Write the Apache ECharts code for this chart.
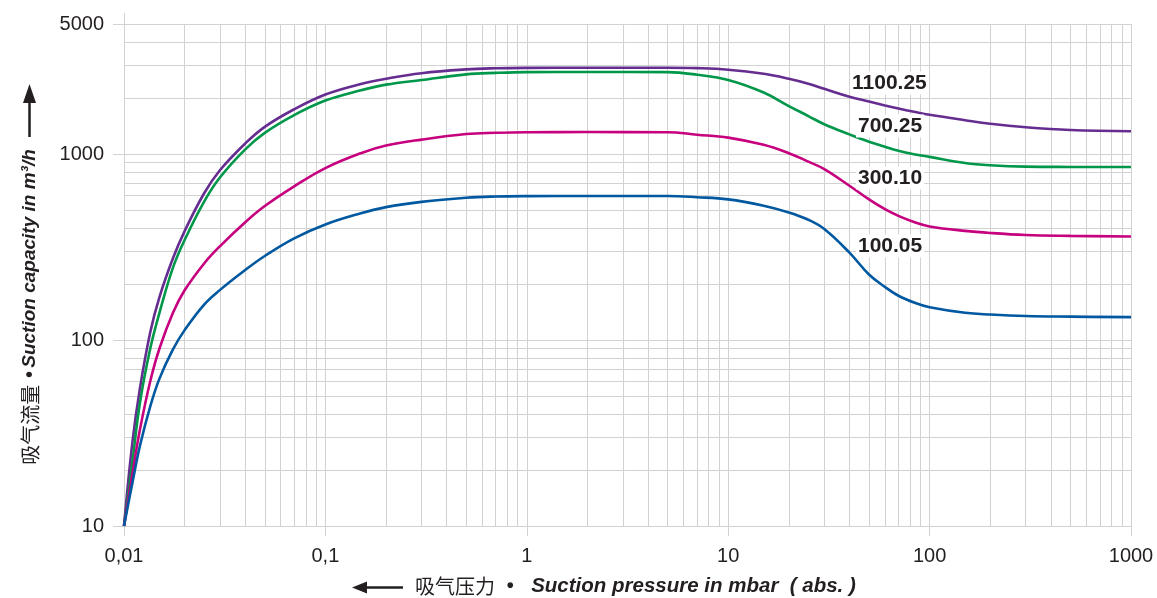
<!DOCTYPE html>
<html><head><meta charset="utf-8">
<script src="https://cdn.jsdelivr.net/npm/echarts@6/dist/echarts.min.js"></script>
<style>html,body{margin:0;padding:0;background:#fff;}#c{width:1157px;height:598px;}</style>
</head><body><div id="c"></div>
<script>
// Suction pressure (mbar, abs.)
const pressure = [0.01, 0.011, 0.012, 0.0135, 0.015, 0.0175, 0.02, 0.025, 0.03, 0.04, 0.05, 0.07, 0.1, 0.15, 0.2, 0.3, 0.5, 0.7, 1, 2, 5, 7, 10, 15, 20, 25, 30, 40, 50, 60, 70, 85, 100, 150, 200, 300, 500, 1000];
// Suction capacity (m3/h)
const cap110025 = [10, 28, 55, 110, 170, 275, 385, 615, 820, 1140, 1400, 1740, 2090, 2380, 2540, 2720, 2850, 2890, 2905, 2910, 2910, 2895, 2840, 2700, 2540, 2390, 2240, 2030, 1915, 1825, 1755, 1680, 1625, 1520, 1455, 1393, 1346, 1325];
const cap70025  = [10, 22, 46, 90, 140, 245, 345, 555, 750, 1060, 1300, 1620, 1940, 2200, 2360, 2500, 2680, 2730, 2757, 2760, 2757, 2670, 2500, 2140, 1810, 1600, 1445, 1275, 1165, 1095, 1040, 995, 965, 895, 870, 855, 852, 851];
const cap30010  = [10, 19, 33, 60, 90, 140, 185, 258, 320, 430, 525, 670, 840, 1010, 1110, 1195, 1280, 1300, 1310, 1312, 1310, 1270, 1225, 1120, 1010, 910, 830, 675, 570, 505, 465, 428, 408, 386, 376, 367, 363, 360];
const cap10005  = [10, 17, 27, 44, 62, 89, 113, 155, 186, 238, 283, 352, 418, 480, 518, 553, 582, 591, 594, 595, 595, 586, 570, 527, 485, 443, 395, 295, 225, 193, 173, 158, 150, 140, 137, 134.5, 133.5, 132.7];
const seriesNames = ['1100.25', '700.25', '300.10', '100.05'];
const xTickValues = [0.01, 0.1, 1, 10, 100, 1000];
const xTickLabels = ['0,01', '0,1', '1', '10', '100', '1000'];
const yTickValues = [10, 100, 1000, 5000];
const yTickLabels = ['10', '100', '1000', '5000'];
const xMinorGrid = [0.02,0.03,0.04,0.05,0.06,0.07,0.08,0.09, 0.2,0.3,0.4,0.5,0.6,0.7,0.8,0.9, 2,3,4,5,6,7,8,9, 20,30,40,50,60,70,80,90, 200,300,400,500,600,700,800,900];
const yMinorGrid = [20,30,40,50,60,70,80,90, 200,300,400,500,600,700,800,900, 2000,3000,4000];

const colors = ['#662d91', '#00974a', '#c6007e', '#0058a0'];
const caps = [cap110025, cap70025, cap30010, cap10005];
const GRID = '#d2d2d2';
const TXT = '#231f20';
const FONT = '"Liberation Sans", Arial, Helvetica, sans-serif';
const CJK = '"Noto Sans CJK SC", sans-serif';

function nearestLabel(vals, labels, v) {
  let best = 0, bd = Infinity;
  vals.forEach((t, i) => { const d = Math.abs(Math.log10(t) - Math.log10(v)); if (d < bd) { bd = d; best = i; } });
  return labels[best];
}

const chart = echarts.init(document.getElementById('c'), null, {renderer: 'canvas'});
const series = caps.map((arr, i) => ({
  name: seriesNames[i], type: 'line', z: 3,
  data: pressure.map((p, j) => [p, arr[j]]),
  showSymbol: false, symbol: 'none', smooth: 0.4,
  lineStyle: {color: colors[i], width: 2.6},
  itemStyle: {color: colors[i]},
  emphasis: {disabled: true}, silent: true, animation: false
}));
series.push({
  type: 'line', data: [], z: 1, silent: true, animation: false,
  markLine: {
    silent: true, symbol: ['none', 'none'], z: 1, animation: false,
    label: {show: false},
    lineStyle: {color: GRID, width: 1, type: 'solid'},
    emphasis: {disabled: true},
    data: xMinorGrid.map(v => ({xAxis: v})).concat(yMinorGrid.map(v => ({yAxis: v})))
  }
});

const labelStyle = (t) => ({text: t, fill: TXT, font: 'bold 21px ' + FONT, align: 'left', verticalAlign: 'middle', backgroundColor: '#fff', padding: [1, 2]});

chart.setOption({
  animation: false,
  backgroundColor: '#fff',
  grid: {left: 124, right: 26, top: 24, bottom: 72, containLabel: false},
  xAxis: {
    type: 'log', logBase: 10, min: 0.01, max: 1000,
    axisLine: {show: true, lineStyle: {color: GRID, width: 1}},
    axisTick: {show: true, length: 10, lineStyle: {color: GRID, width: 1}},
    splitLine: {show: true, lineStyle: {color: GRID, width: 1}},
    minorTick: {show: false}, minorSplitLine: {show: false},
    axisLabel: {color: TXT, fontSize: 20, fontFamily: FONT, margin: 20,
      formatter: v => nearestLabel(xTickValues, xTickLabels, v)}
  },
  yAxis: {
    type: 'log', logBase: 10, min: 10, max: 5000,
    axisLine: {show: true, lineStyle: {color: GRID, width: 1}},
    axisTick: {show: true, length: 11, lineStyle: {color: GRID, width: 1}},
    splitLine: {show: true, lineStyle: {color: GRID, width: 1}},
    minorTick: {show: false}, minorSplitLine: {show: false},
    axisLabel: {color: TXT, fontSize: 20, fontFamily: FONT, margin: 20,
      formatter: v => nearestLabel(yTickValues, yTickLabels, v)}
  },
  series: series,
  graphic: [
    {type: 'line', z: 1, shape: {x1: 124.5, y1: 13, x2: 124.5, y2: 24}, style: {stroke: GRID, lineWidth: 1}},
    {type: 'text', z: 100, x: 850, y: 83, style: labelStyle(seriesNames[0])},
    {type: 'text', z: 100, x: 856, y: 126, style: labelStyle(seriesNames[1])},
    {type: 'text', z: 100, x: 856, y: 178, style: labelStyle(seriesNames[2])},
    {type: 'text', z: 100, x: 856, y: 246, style: labelStyle(seriesNames[3])},
    {type: 'text', z: 100, x: 30, y: 307, rotation: Math.PI / 2,
      style: {text: '{cn|吸气流量}  {b|•} {en|Suction capacity in m³/h}', align: 'center', verticalAlign: 'middle',
        rich: {
          cn: {fontFamily: CJK, fontSize: 20, fill: TXT, fontWeight: 'normal'},
          b: {fontFamily: FONT, fontSize: 20, fill: TXT, fontWeight: 'bold'},
          en: {fontFamily: FONT, fontSize: 19, fill: TXT, fontWeight: 'bold', fontStyle: 'italic'}
        }}},
    {type: 'line', z: 100, shape: {x1: 29.5, y1: 137, x2: 29.5, y2: 100}, style: {stroke: TXT, lineWidth: 2.5}},
    {type: 'polygon', z: 100, shape: {points: [[29.5, 84], [23, 103], [36, 103]]}, style: {fill: TXT}},
    {type: 'text', z: 100, x: 415, y: 586,
      style: {text: '{cn|吸气压力}{sp|  }{b|•}{sp2|   }{en|Suction pressure in mbar  ( abs. )}', align: 'left', verticalAlign: 'middle',
        rich: {
          cn: {fontFamily: CJK, fontSize: 20, fill: TXT, fontWeight: 'normal'},
          sp: {fontFamily: FONT, fontSize: 21, fill: TXT},
          sp2: {fontFamily: FONT, fontSize: 21, fill: TXT},
          b: {fontFamily: FONT, fontSize: 20, fill: TXT, fontWeight: 'bold'},
          en: {fontFamily: FONT, fontSize: 20.5, fill: TXT, fontWeight: 'bold', fontStyle: 'italic'}
        }}},
    {type: 'line', z: 100, shape: {x1: 366, y1: 587.5, x2: 403, y2: 587.5}, style: {stroke: TXT, lineWidth: 2.5}},
    {type: 'polygon', z: 100, shape: {points: [[352, 587.5], [367, 581.5], [367, 593.5]]}, style: {fill: TXT}}
  ]
});
</script></body></html>
